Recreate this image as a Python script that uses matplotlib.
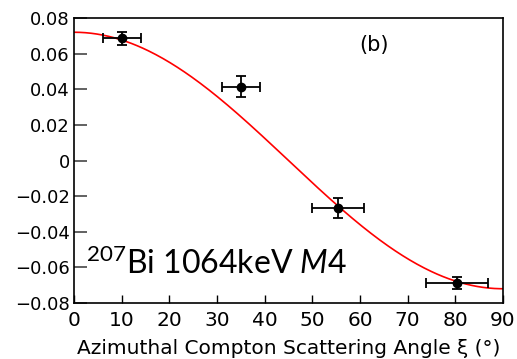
import numpy as np
import matplotlib
matplotlib.use("Agg")
import matplotlib.pyplot as plt

plt.rcParams["font.family"] = ["DejaVu Sans"]
plt.rcParams["mathtext.fontset"] = "custom"
plt.rcParams["mathtext.rm"] = "Lato"
plt.rcParams["mathtext.it"] = "Lato:italic"

# measured asymmetry vs azimuthal angle
angle = [10.0, 35.0, 55.4, 80.3]
angle_err = [4.0, 4.0, 5.5, 6.5]
asym = [0.0686, 0.0414, -0.0265, -0.0688]
asym_err = [0.0037, 0.0058, 0.0056, 0.0034]

# fitted amplitude of the cos(2xi) curve
fit_amp = 0.072

fig = plt.figure(figsize=(5.17, 3.59), dpi=100)
ax = fig.add_axes([74 / 517, 1 - 303 / 359, 429 / 517, 285 / 359])

xi = np.linspace(0, 90, 300)
ax.plot(xi, fit_amp * np.cos(np.radians(2 * xi)), color="red", lw=1.2)

ax.errorbar(angle, asym, xerr=angle_err, yerr=asym_err, fmt="o", color="black",
            ms=6, capsize=3.6, elinewidth=1.3, capthick=1.3)

ax.set_xlim(0, 90)
ax.set_ylim(-0.08, 0.08)
ax.set_xticks(np.arange(0, 91, 10))
ax.set_yticks(np.arange(-0.08, 0.081, 0.02))
ax.set_yticklabels(["−0.08", "−0.06", "−0.04", "−0.02", "0",
                    "0.02", "0.04", "0.06", "0.08"])

for s in ax.spines.values():
    s.set_linewidth(1.2)

ax.tick_params(axis="x", direction="in", length=6, width=1.0, labelsize=14.5, pad=6)
ax.tick_params(axis="y", direction="in", length=9, width=1.3, color="#555555",
               labelsize=13, pad=3)

ax.set_xlabel("Azimuthal Compton Scattering Angle ξ (°)", fontsize=14.5, labelpad=6)

ax.text(0.70, 0.905, "(b)", transform=ax.transAxes, fontsize=15,
        ha="center", va="center")
ax.text(2.6, -0.064, r"$\mathrm{^{207}}$Bi 1064keV $M4$", fontsize=23,
        family="Lato", ha="left", va="baseline")

fig.savefig("out.png", dpi=100)
